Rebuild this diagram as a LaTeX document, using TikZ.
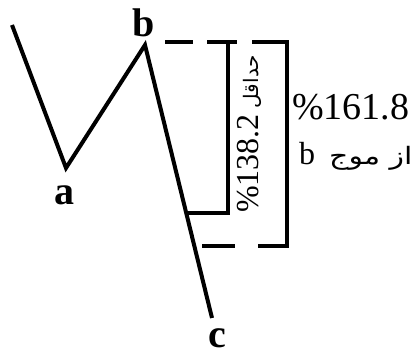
\documentclass[tikz,border=0pt]{standalone}
\usepackage{fontspec}
\setmainfont{Liberation Serif}
\newfontfamily\arabicfont[Script=Arabic]{DejaVu Sans}
\newfontfamily\arabicwide[Script=Arabic,FakeStretch=1.25]{DejaVu Sans}
\TeXXeTstate=1
\begin{document}
\begin{tikzpicture}[x=1pt,y=-1pt,
  wave/.style={line width=4pt,line join=miter},
  brk/.style={line width=3.5pt},
  lbl/.style={inner sep=0pt,anchor=base,font=\fontsize{40}{44}\selectfont\bfseries},
  txt/.style={inner sep=0pt,anchor=base west,font=\fontsize{38}{42}\selectfont}]
\useasboundingbox (0,0) rectangle (416,358);
% zigzag
\coordinate (s) at (12,25);
\coordinate (pa) at (66,168);
\coordinate (pb) at (145,45);
\coordinate (pc) at (212,318);
\draw[wave] (s) -- (pa) -- (pb) -- (pc);
% labels
\node[lbl] (la) at (64,205) {a};
\node[lbl] (lb) at (144,37) {b};
\node[lbl] (lc) at (217,348) {c};
% top dashes
\coordinate (t1) at (165,42);
\coordinate (t2) at (193,42);
\coordinate (t3) at (207,42);
\coordinate (t4) at (237,42);
\coordinate (iv) at (228,42);
\coordinate (ic) at (228,213);
\coordinate (ik) at (186,213);
\draw[brk] (t1) -- (t2);
\draw[brk] (t3) -- (t4);
\draw[brk] (iv) -- (ic) -- (ik);
% outer bracket
\coordinate (o1) at (252,42);
\coordinate (o2) at (287,42);
\coordinate (o3) at (287,246);
\coordinate (o4) at (258,246);
\coordinate (d1) at (202,246);
\coordinate (d2) at (235,246);
\draw[brk] (o1) -- (o2) -- (o3) -- (o4);
\draw[brk] (d1) -- (d2);
% rotated text
\node[inner sep=0pt,anchor=base west,rotate=90,font=\fontsize{32}{36}\selectfont] (rt) at (258,213)
  {\%138.2\hspace{6pt}{\arabicfont\fontsize{20}{24}\selectfont\beginR حداقل\endR}};
% right texts
\node[txt] (t161) at (292,120) {\%161.8};
\node[txt,font=\fontsize{32}{36}\selectfont] (tb) at (299,165)
  {b\hspace{14pt}{\arabicwide\fontsize{24}{28}\selectfont\beginR از موج\endR}};
\end{tikzpicture}
\end{document}
